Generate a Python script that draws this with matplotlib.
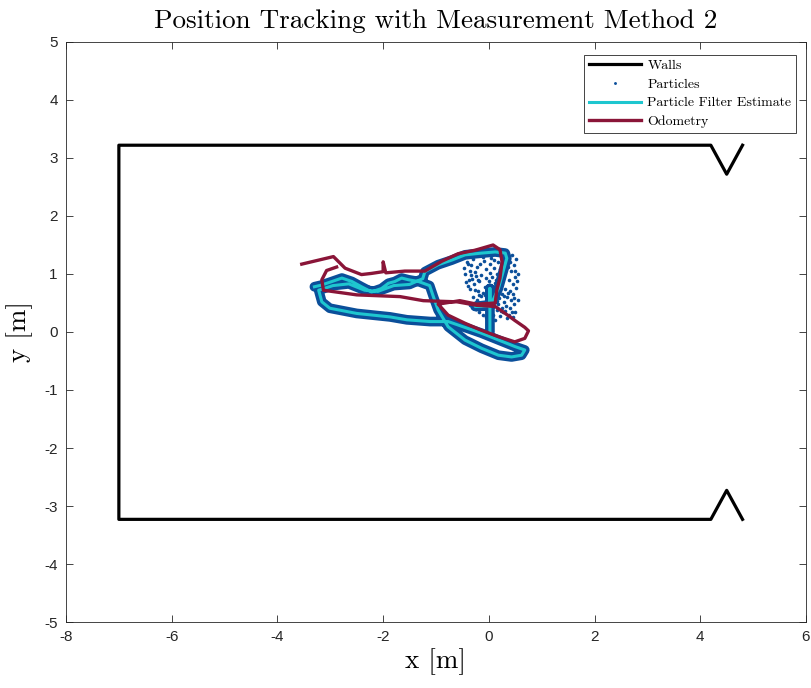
import matplotlib
matplotlib.use("agg")
import matplotlib.pyplot as plt

plt.rcParams["axes.unicode_minus"] = False

# Walls of the room
wall_x = [4.8, 4.5, 4.2, -7.0, -7.0, 4.2, 4.5, 4.8]
wall_y = [3.22, 2.72, 3.22, 3.22, -3.23, -3.23, -2.73, -3.23]

# Particle filter estimate
pf_x = [-3.30, -3.16, -2.97, -2.78, -2.59, -2.41, -2.22, -2.03, -1.90, -1.78, -1.65, -1.52,
        -1.33, -1.12, -1.05, -0.96, -0.77, -0.45, -0.14, 0.18, 0.43, 0.62, 0.68, 0.49,
        -0.14, -0.77, -1.11, -1.55, -1.87, -2.50, -3.01, -3.16, -3.22, -2.95, -2.65,
        -2.35, -2.10, -1.80, -1.50, -1.25, -1.21, -0.96, -0.70, -0.45, -0.14, 0.12,
        0.31, 0.34, 0.27, 0.18, 0.08, 0.02, -0.26, 0.02, 0.02, 0.02]
pf_y = [0.78, 0.81, 0.87, 0.93, 0.87, 0.78, 0.69, 0.75, 0.84, 0.87, 0.93, 0.90,
        0.87, 0.80, 0.61, 0.38, 0.09, -0.14, -0.28, -0.40, -0.43, -0.40, -0.31, -0.25,
        -0.02, 0.18, 0.18, 0.21, 0.26, 0.32, 0.41, 0.52, 0.72, 0.80, 0.83,
        0.72, 0.70, 0.80, 0.82, 0.92, 1.04, 1.16, 1.24, 1.33, 1.36, 1.38,
        1.36, 1.27, 1.04, 0.75, 0.55, 0.47, 0.44, 0.45, 0.75, 0.00]

# Odometry
odo_x = [-3.54, -2.94, -2.72, -2.41, -2.22, -2.00, -2.00, -1.95, -1.59, -1.21, -0.89,
         -0.58, -0.26, 0.08, 0.21, 0.25, 0.21, 0.15, 0.12, -0.23, -0.55, -0.96, -0.77,
         -0.45, -0.14, 0.18, 0.49, 0.68, 0.75, 0.68, 0.49, 0.31, 0.12, -0.23, -0.60,
         -1.24, -1.68, -2.50, -3.13, -3.16, -3.07, -2.88]
odo_y = [1.17, 1.30, 1.10, 0.99, 1.01, 1.04, 1.21, 1.02, 1.05, 1.05, 1.22,
         1.35, 1.41, 1.50, 1.42, 1.21, 0.93, 0.72, 0.50, 0.48, 0.54, 0.48, 0.29,
         0.15, 0.03, -0.08, -0.17, -0.11, 0.02, 0.08, 0.20, 0.32, 0.44, 0.46, 0.52,
         0.54, 0.61, 0.64, 0.72, 0.90, 1.06, 1.12]

# Particle cloud that spread out near the origin
cloud_x = [-0.42, -0.35, -0.30, -0.22, -0.15, -0.10, -0.05, 0.02, 0.06, 0.10, -0.38,
           -0.28, -0.18, -0.08, 0.00, 0.12, -0.33, -0.25, -0.12, 0.05, -0.40, 0.08,
           -0.20, -0.45, 0.15, 0.18, -0.30, -0.22, -0.15, -0.08, -0.02, 0.05, 0.12,
           0.20, 0.28, 0.35, 0.42, 0.48, -0.25, -0.18, -0.10, 0.00, 0.08, 0.15, 0.22,
           0.30, 0.38, 0.45, 0.50, -0.05, 0.12, 0.25, 0.33, 0.40, -0.12, 0.18, 0.40,
           0.45, 0.50, 0.42, 0.48, 0.52, 0.38, 0.46, 0.52, 0.40, 0.44, 0.50, 0.36, 0.53,
           -0.47, -0.39, -0.31, -0.26, -0.17, -0.06, 0.03, 0.09, 0.14, 0.21, -0.44,
           -0.36, -0.27, -0.19, -0.11, -0.03, 0.04, 0.11, 0.24, 0.31, -0.35, -0.24,
           -0.14, -0.04, 0.07, 0.16, 0.26, 0.34, 0.43, 0.55, 0.55, 0.47, 0.37, 0.29,
           -0.33, -0.21, -0.07, 0.01, 0.13, 0.23]
cloud_y = [1.20, 1.05, 1.25, 1.12, 0.98, 1.22, 1.08, 1.18, 0.95, 1.10, 0.90,
           0.82, 0.88, 0.78, 0.88, 0.85, 1.15, 0.97, 1.30, 1.28, 0.80, 0.72,
           0.70, 1.00, 1.00, 1.20, 0.60, 0.55, 0.62, 0.52, 0.60, 0.55, 0.62,
           0.58, 0.52, 0.60, 0.55, 0.48, 0.40, 0.35, 0.42, 0.35, 0.30, 0.38, 0.28,
           0.36, 0.30, 0.25, 0.35, 0.25, 0.20, 0.42, 0.45, 0.42, 0.30, 0.48, 0.70,
           0.82, 0.95, 1.05, 1.15, 1.25, 0.90, 0.65, 0.75, 1.20, 1.32, 1.05, 1.12, 0.88,
           1.10, 1.18, 0.92, 1.03, 1.17, 0.93, 1.02, 1.24, 0.90, 1.08, 0.86,
           0.74, 0.72, 0.64, 0.68, 0.70, 0.66, 0.78, 0.66, 0.74, 0.46, 0.48,
           0.46, 0.44, 0.43, 0.54, 0.34, 0.24, 0.34, 0.55, 1.00, 0.58, 0.68, 0.62,
           0.98, 0.90, 0.64, 0.50, 0.52, 0.36]

wall_color = "black"
particle_color = "#0b4f9a"
pf_color = "#1ec6cf"
odo_color = "#8a1538"
serif = "cmr10"

fig = plt.figure(figsize=(8.11, 6.88), dpi=100)
ax = fig.add_axes([0.0814, 0.0959, 0.9124, 0.8431])

ax.plot(wall_x, wall_y, color=wall_color, lw=2.3, label="Walls")
# particles hug the estimate, so draw that band from the estimate track
ax.plot(pf_x, pf_y, color=particle_color, lw=7, solid_capstyle="round",
        solid_joinstyle="round")
ax.plot(cloud_x, cloud_y, ls="none", marker="o", ms=2.6, mew=0,
        color=particle_color, label="Particles")
ax.plot(pf_x, pf_y, color=pf_color, lw=2.2, label="Particle Filter Estimate")
ax.plot(odo_x, odo_y, color=odo_color, lw=2.4, label="Odometry")

ax.set_xlim(-8, 6)
ax.set_ylim(-5, 5)
ax.set_xticks(range(-8, 7, 2))
ax.set_yticks(range(-5, 6, 1))
ax.tick_params(direction="in", length=5, width=0.6, top=True, right=True,
               labelsize=11, colors="#262626", pad=6)
for sp in ax.spines.values():
    sp.set_linewidth(0.6)
    sp.set_color("#262626")
for lab in ax.get_xticklabels() + ax.get_yticklabels():
    lab.set_family("Liberation Sans")

ax.set_title("Position Tracking with Measurement Method 2", fontfamily=serif,
             fontsize=19.5, pad=10)
ax.set_xlabel("x [m]", fontfamily=serif, fontsize=19.5, labelpad=3)
ax.set_ylabel("y [m]", fontfamily=serif, fontsize=19.5, labelpad=8)

leg = ax.legend(loc="upper right", bbox_to_anchor=(0.987, 0.978),
                prop={"family": serif, "size": 10},
                fancybox=False, framealpha=1, edgecolor="#262626",
                borderaxespad=0, handlelength=3.7, handletextpad=0.5,
                labelspacing=0.42, borderpad=0.35, markerscale=0.8)
leg.get_frame().set_linewidth(0.6)

fig.savefig("out.png", dpi=100)
